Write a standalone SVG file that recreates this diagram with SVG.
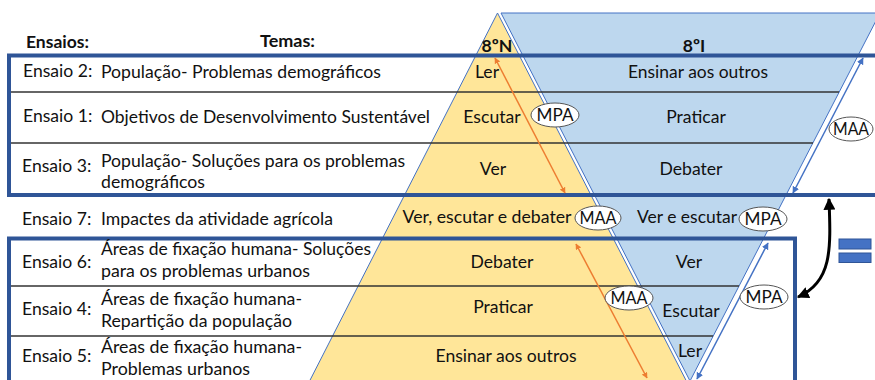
<svg xmlns="http://www.w3.org/2000/svg" width="875" height="380" viewBox="0 0 875 380">
<defs>
<style>
text{font-family:Lato,"Liberation Sans",sans-serif;font-size:17.6px;fill:#111}
.b{font-weight:bold}
.m{text-anchor:middle}
.thick{fill:none;stroke:#2F5597;stroke-width:4}
.row{stroke:#333;stroke-width:1.3}
.ell{fill:#fff;stroke:#555;stroke-width:1}
.oa{stroke:#ED7D31;stroke-width:1.5;fill:none}
.ba{stroke:#4472C4;stroke-width:1.5;fill:none}
</style>
<marker id="mo" viewBox="0 0 10 10" refX="9" refY="5" markerWidth="6" markerHeight="6" markerUnits="userSpaceOnUse" orient="auto-start-reverse"><path d="M0,0L10,5L0,10z" fill="#ED7D31"/></marker>
<marker id="mb" viewBox="0 0 10 10" refX="9" refY="5" markerWidth="7" markerHeight="7" markerUnits="userSpaceOnUse" orient="auto-start-reverse"><path d="M0,0L10,5L0,10z" fill="#4472C4"/></marker>
<marker id="mk" viewBox="0 0 10 10" refX="9" refY="5" markerWidth="12" markerHeight="12" markerUnits="userSpaceOnUse" orient="auto-start-reverse"><path d="M0,0L10,5L0,10z" fill="#000"/></marker>
</defs>
<g id="pyramids">
<polygon id="yellow" points="497.5,13 305,390 691,390" fill="#FFE699" stroke="#4472C4" stroke-width="1"/>
<polygon id="blue" points="501,13 880,13 690,381" fill="#BDD7EE" stroke="#4472C4" stroke-width="1"/>
</g>
<g id="rows">
<line class="row" x1="9" y1="92" x2="839" y2="92"/>
<line class="row" x1="9" y1="143" x2="813" y2="143"/>
<line class="row" x1="9" y1="286" x2="739" y2="286"/>
<line class="row" x1="9" y1="336" x2="713" y2="336"/>
</g>
<g id="frames">
<path class="thick" d="M880,55.5H9V195H880"/>
<path class="thick" d="M9,390V238.5H795V390"/>
</g>
<g id="headers">
<text class="b" x="26" y="48" textLength="63" lengthAdjust="spacingAndGlyphs">Ensaios:</text>
<text class="b" x="260" y="47" textLength="55" lengthAdjust="spacingAndGlyphs">Temas:</text>
<text class="b m" x="497" y="52">8ºN</text>
<text class="b m" x="694" y="52">8ºI</text>
</g>
<g id="ensaio2">
<text x="23" y="77">Ensaio 2:</text>
<text x="101" y="78" textLength="280" lengthAdjust="spacingAndGlyphs">População- Problemas demográficos</text>
<text class="m" x="487" y="78">Ler</text>
<text class="m" x="698" y="78" textLength="140" lengthAdjust="spacingAndGlyphs">Ensinar aos outros</text>
</g>
<g id="ensaio1">
<text x="23" y="122">Ensaio 1:</text>
<text x="101" y="123" textLength="329" lengthAdjust="spacingAndGlyphs">Objetivos de Desenvolvimento Sustentável</text>
<text class="m" x="492" y="123">Escutar</text>
<text class="m" x="696" y="123">Praticar</text>
</g>
<g id="ensaio3">
<text x="22" y="172">Ensaio 3:</text>
<text x="101" y="167" textLength="304" lengthAdjust="spacingAndGlyphs">População- Soluções para os problemas</text>
<text x="101" y="188" textLength="104" lengthAdjust="spacingAndGlyphs">demográficos</text>
<text class="m" x="493" y="175">Ver</text>
<text class="m" x="691" y="175">Debater</text>
</g>
<g id="ensaio7">
<text x="22" y="225">Ensaio 7:</text>
<text x="101" y="225" textLength="232" lengthAdjust="spacingAndGlyphs">Impactes da atividade agrícola</text>
<text class="m" x="487" y="223" textLength="169" lengthAdjust="spacingAndGlyphs">Ver, escutar e debater</text>
<text class="m" x="687" y="223" textLength="100" lengthAdjust="spacingAndGlyphs">Ver e escutar</text>
</g>
<g id="ensaio6">
<text x="22" y="268">Ensaio 6:</text>
<text x="101" y="255" textLength="270" lengthAdjust="spacingAndGlyphs">Áreas de fixação humana- Soluções</text>
<text x="101" y="277" textLength="209" lengthAdjust="spacingAndGlyphs">para os problemas urbanos</text>
<text class="m" x="502" y="268">Debater</text>
<text class="m" x="689" y="268">Ver</text>
</g>
<g id="ensaio4">
<text x="22" y="315">Ensaio 4:</text>
<text x="101" y="305" textLength="201" lengthAdjust="spacingAndGlyphs">Áreas de fixação humana-</text>
<text x="101" y="327" textLength="191" lengthAdjust="spacingAndGlyphs">Repartição da população</text>
<text class="m" x="503" y="313">Praticar</text>
<text class="m" x="691" y="317">Escutar</text>
</g>
<g id="ensaio5">
<text x="22" y="362">Ensaio 5:</text>
<text x="101" y="353" textLength="201" lengthAdjust="spacingAndGlyphs">Áreas de fixação humana-</text>
<text x="101" y="375" textLength="149" lengthAdjust="spacingAndGlyphs">Problemas urbanos</text>
<text class="m" x="506" y="362" textLength="141" lengthAdjust="spacingAndGlyphs">Ensinar aos outros</text>
<text class="m" x="690" y="357">Ler</text>
</g>
<g id="connectors">
<line class="oa" x1="495" y1="58" x2="565" y2="193" marker-start="url(#mo)" marker-end="url(#mo)"/>
<line class="oa" x1="576" y1="244" x2="647" y2="378" marker-start="url(#mo)" marker-end="url(#mo)"/>
<line class="ba" x1="863" y1="58" x2="793" y2="193" marker-start="url(#mb)" marker-end="url(#mb)"/>
<line class="ba" x1="768" y1="243" x2="697" y2="379" marker-start="url(#mb)" marker-end="url(#mb)"/>
<path d="M829,199C831,250 832,282 798,297" fill="none" stroke="#000" stroke-width="3" marker-start="url(#mk)" marker-end="url(#mk)"/>
</g>
<g id="labels">
<ellipse class="ell" cx="555" cy="115" rx="24" ry="12"/>
<text class="m" x="555" y="121" textLength="37" lengthAdjust="spacingAndGlyphs">MPA</text>
<ellipse class="ell" cx="851" cy="129" rx="22" ry="12"/>
<text class="m" x="851" y="135" textLength="36" lengthAdjust="spacingAndGlyphs">MAA</text>
<ellipse class="ell" cx="598" cy="218" rx="23" ry="12"/>
<text class="m" x="598" y="224" textLength="37" lengthAdjust="spacingAndGlyphs">MAA</text>
<ellipse class="ell" cx="763" cy="219" rx="24" ry="12"/>
<text class="m" x="763" y="225" textLength="37" lengthAdjust="spacingAndGlyphs">MPA</text>
<ellipse class="ell" cx="629" cy="298" rx="24" ry="12"/>
<text class="m" x="629" y="304" textLength="37" lengthAdjust="spacingAndGlyphs">MAA</text>
<ellipse class="ell" cx="764" cy="297" rx="24" ry="12"/>
<text class="m" x="764" y="303" textLength="37" lengthAdjust="spacingAndGlyphs">MPA</text>
</g>
<g id="equals">
<rect x="839" y="239" width="32" height="10" fill="#4472C4" stroke="#2F5597" stroke-width="1"/>
<rect x="839" y="253" width="32" height="9.5" fill="#4472C4" stroke="#2F5597" stroke-width="1"/>
</g>
</svg>
